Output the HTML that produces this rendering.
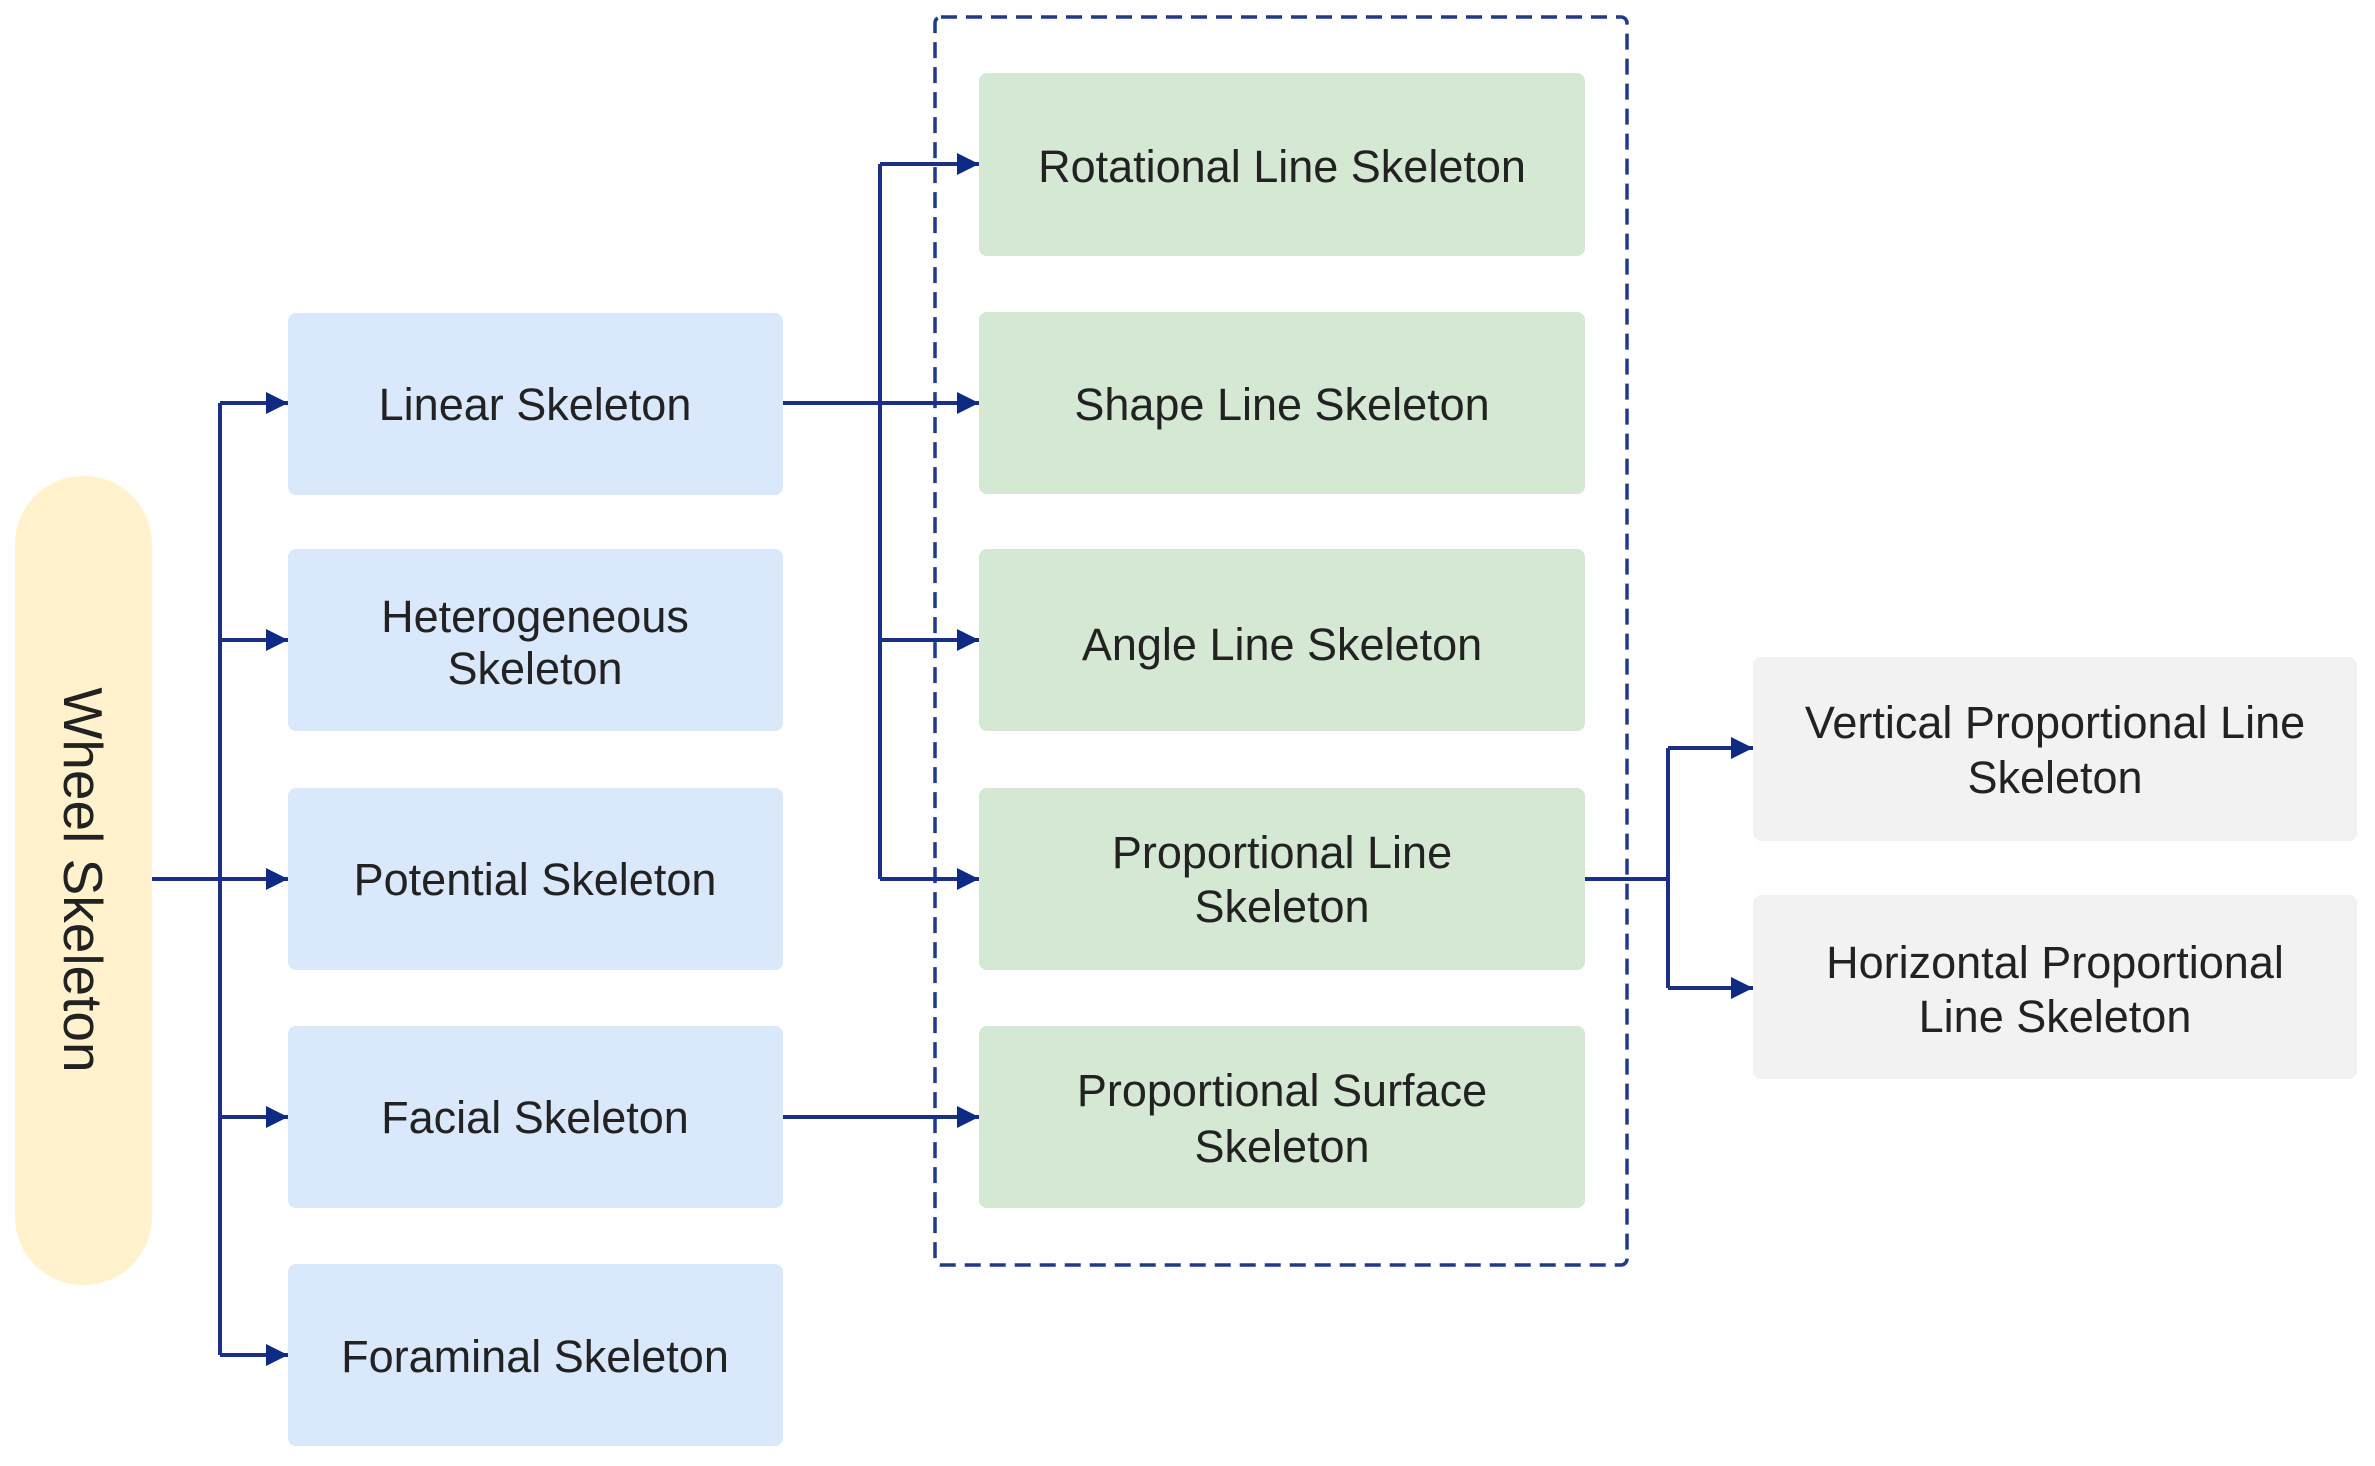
<!DOCTYPE html>
<html><head><meta charset="utf-8"><style>
html,body{margin:0;padding:0;background:#fff;}
svg text{font-family:"Liberation Sans",sans-serif;fill:#222;}
</style></head><body>
<svg width="2375" height="1461" viewBox="0 0 2375 1461" xmlns="http://www.w3.org/2000/svg">
<defs>
<marker id="a" viewBox="0 0 10 10" refX="10" refY="5" markerWidth="28" markerHeight="22" markerUnits="userSpaceOnUse" orient="auto">
<path d="M0,0 L10,5 L0,10 z" fill="#0d2a85"/></marker>
</defs>
<rect x="935" y="17" width="692" height="1248" rx="6" fill="none" stroke="#1f3a8a" stroke-width="3.5" stroke-dasharray="16,9"/>
<rect x="15" y="476" width="137" height="809" rx="68" fill="#fff2cc"/>
<text transform="translate(83,880) rotate(90)" text-anchor="middle" dominant-baseline="central" font-size="55">Wheel Skeleton</text>
<g fill="#dae8fc">
<rect x="288" y="313" width="495" height="182" rx="8"/>
<rect x="288" y="549" width="495" height="182" rx="8"/>
<rect x="288" y="788" width="495" height="182" rx="8"/>
<rect x="288" y="1026" width="495" height="182" rx="8"/>
<rect x="288" y="1264" width="495" height="182" rx="8"/>
</g>
<g fill="#d5e8d4">
<rect x="979" y="73" width="606" height="183" rx="8"/>
<rect x="979" y="312" width="606" height="182" rx="8"/>
<rect x="979" y="549" width="606" height="182" rx="8"/>
<rect x="979" y="788" width="606" height="182" rx="8"/>
<rect x="979" y="1026" width="606" height="182" rx="8"/>
</g>
<g fill="#f2f2f2">
<rect x="1753" y="657" width="604" height="184" rx="8"/>
<rect x="1753" y="895" width="604" height="184" rx="8"/>
</g>
<g font-size="45" text-anchor="middle">
<text x="535" y="420">Linear Skeleton</text>
<text x="535" y="632">Heterogeneous</text><text x="535" y="684">Skeleton</text>
<text x="535" y="895">Potential Skeleton</text>
<text x="535" y="1133">Facial Skeleton</text>
<text x="535" y="1372">Foraminal Skeleton</text>
<text x="1282" y="182">Rotational Line Skeleton</text>
<text x="1282" y="420">Shape Line Skeleton</text>
<text x="1282" y="660">Angle Line Skeleton</text>
<text x="1282" y="868">Proportional Line</text><text x="1282" y="922">Skeleton</text>
<text x="1282" y="1106">Proportional Surface</text><text x="1282" y="1162">Skeleton</text>
<text x="2055" y="738">Vertical Proportional Line</text><text x="2055" y="793">Skeleton</text>
<text x="2055" y="978">Horizontal Proportional</text><text x="2055" y="1032">Line Skeleton</text>
</g>
<g stroke="#1a2f85" stroke-width="4" fill="none">
<path d="M152,879 H220"/>
<path d="M220,403 V1355"/>
<path d="M220,403 H288" marker-end="url(#a)"/>
<path d="M220,640 H288" marker-end="url(#a)"/>
<path d="M220,879 H288" marker-end="url(#a)"/>
<path d="M220,1117 H288" marker-end="url(#a)"/>
<path d="M220,1355 H288" marker-end="url(#a)"/>
<path d="M783,403 H880"/>
<path d="M880,164 V879"/>
<path d="M880,164 H979" marker-end="url(#a)"/>
<path d="M880,403 H979" marker-end="url(#a)"/>
<path d="M880,640 H979" marker-end="url(#a)"/>
<path d="M880,879 H979" marker-end="url(#a)"/>
<path d="M783,1117 H979" marker-end="url(#a)"/>
<path d="M1585,879 H1668"/>
<path d="M1668,748 V988"/>
<path d="M1668,748 H1753" marker-end="url(#a)"/>
<path d="M1668,988 H1753" marker-end="url(#a)"/>
</g>
</svg>
</body></html>
